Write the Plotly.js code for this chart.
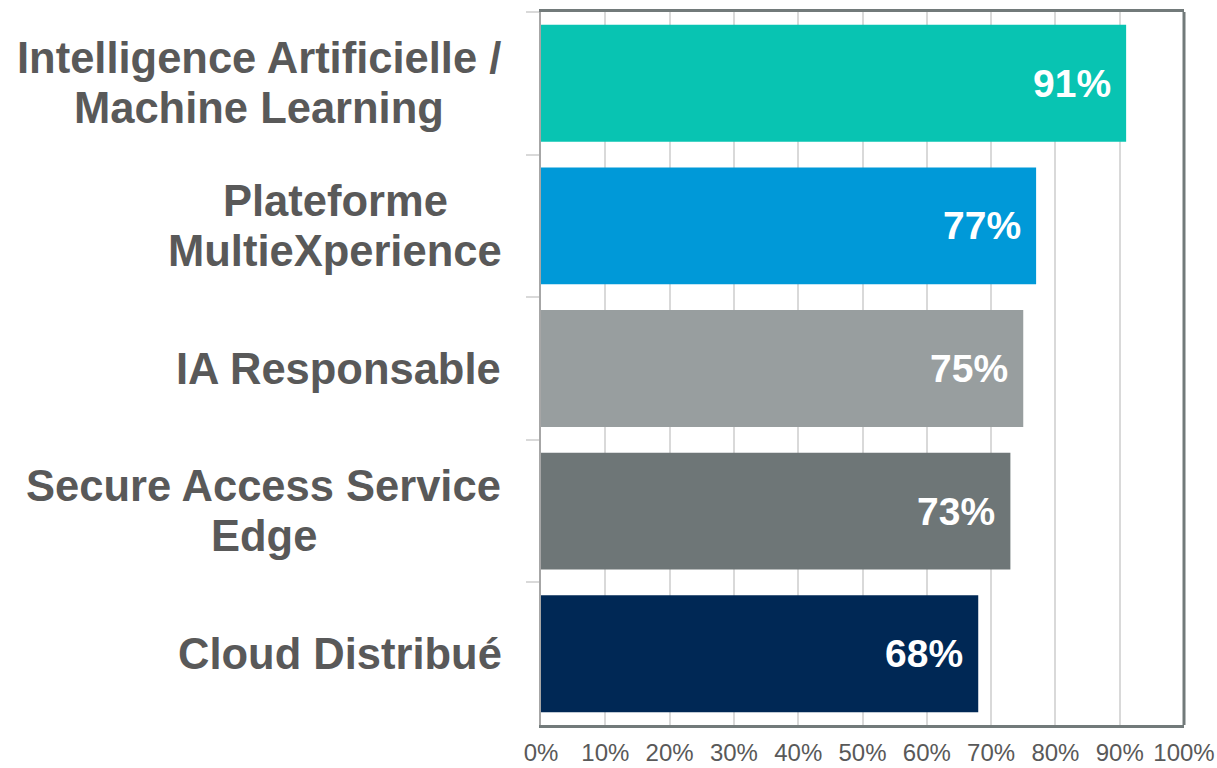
<!DOCTYPE html>
<html>
<head>
<meta charset="utf-8">
<script src="https://cdn.plot.ly/plotly-3.0.1.min.js"></script>
<style>html,body{margin:0;padding:0;background:#fff;}#chart{width:1217px;height:768px;}</style>
</head>
<body>
<div id="chart"></div>
<script>
const categories = ["Intelligence Artificielle /<br>Machine Learning", "Plateforme<br>MultieXperience", "IA Responsable", "Secure Access Service<br>Edge", "Cloud Distribué"];
const values = [0.91, 0.77, 0.75, 0.73, 0.68];
const valueLabels = ["91%", "77%", "75%", "73%", "68%"];
const barColors = ["#08C4B2", "#0099D8", "#989E9F", "#6E7677", "#002855"];
const xTickValues = [0, 0.1, 0.2, 0.3, 0.4, 0.5, 0.6, 0.7, 0.8, 0.9, 1.0];
const xTickLabels = ["0%", "10%", "20%", "30%", "40%", "50%", "60%", "70%", "80%", "90%", "100%"];

const textColor = "#595959";
const font = "Liberation Sans, Arial, sans-serif";
const labelSize = 43.5;
const lineGap = 50;

const trace = {
  type: "bar",
  orientation: "h",
  x: values,
  y: categories,
  marker: {color: barColors, line: {width: 0}},
  hoverinfo: "skip"
};

const ctx = document.createElement("canvas").getContext("2d");
ctx.font = "bold " + labelSize + "px 'Liberation Sans', Arial, sans-serif";

const annotations = [];
categories.forEach((c, i) => {
  const lines = c.split("<br>");
  const w = Math.max(...lines.map(l => ctx.measureText(l).width));
  lines.forEach((l, j) => {
    annotations.push({
      xref: "paper", yref: "y", x: 0, y: c, xanchor: "center", yanchor: "middle",
      xshift: -39 - w / 2, yshift: ((lines.length - 1) / 2 - j) * lineGap,
      showarrow: false, text: l,
      font: {family: font, size: labelSize, color: textColor, weight: "bold"}
    });
  });
  annotations.push({
    xref: "x", yref: "y", x: values[i], y: c, xanchor: "right", yanchor: "middle",
    xshift: -13, showarrow: false, text: valueLabels[i],
    font: {family: font, size: 39, color: "#ffffff", weight: "bold"}
  });
});

const layout = {
  width: 1217, height: 768,
  margin: {l: 541, r: 33, t: 12, b: 43, pad: 0},
  paper_bgcolor: "#ffffff", plot_bgcolor: "#ffffff",
  showlegend: false,
  bargap: 0.18,
  font: {family: font, color: textColor},
  xaxis: {
    range: [0, 1], tickvals: xTickValues, ticktext: xTickLabels,
    tickfont: {family: font, size: 24, color: textColor},
    showgrid: true, gridcolor: "#d9d9d9", gridwidth: 2,
    zeroline: false,
    showline: true, linecolor: "#727a7a", linewidth: 3, mirror: true,
    ticks: "", ticklabelstandoff: 4, fixedrange: true
  },
  yaxis: {
    type: "category", categoryarray: categories, categoryorder: "array",
    autorange: "reversed",
    showticklabels: false,
    ticks: "outside", tickson: "boundaries", ticklen: 13, tickwidth: 2, tickcolor: "#d9d9d9",
    showline: true, linecolor: "#a6a6a6", linewidth: 2,
    showgrid: false, zeroline: false, fixedrange: true
  },
  shapes: [{
    type: "line", xref: "paper", yref: "paper", x0: 1, x1: 1, y0: 0, y1: 1,
    line: {color: "#727a7a", width: 3}
  }],
  annotations: annotations
};

Plotly.newPlot("chart", [trace], layout, {staticPlot: true, displayModeBar: false});
</script>
</body>
</html>
